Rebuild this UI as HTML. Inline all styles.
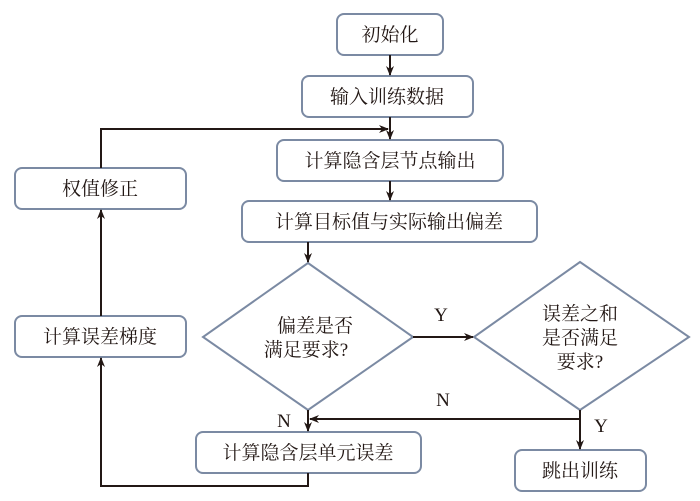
<!DOCTYPE html>
<html><head><meta charset="utf-8"><style>
body{margin:0;background:#fff;}
svg{display:block;font-family:"Liberation Serif","Noto Serif CJK SC","Noto Sans CJK SC",serif;}
.b{fill:#fff;stroke:#7b8aa3;stroke-width:2;}
.l{stroke:#231815;stroke-width:2;fill:none;}
text{font-size:19px;fill:#231815;text-anchor:middle;}
</style></head><body>
<svg width="700" height="501" viewBox="0 0 700 501" xmlns="http://www.w3.org/2000/svg">
<defs><marker id="a" markerWidth="10" markerHeight="10" refX="9" refY="5" orient="auto" markerUnits="userSpaceOnUse"><path d="M0,1 L10,5 L0,9 L3,5 Z" fill="#231815"/></marker></defs>
<rect class="b" x="337" y="14" width="106" height="41" rx="7"/>
<text x="390" y="41">初始化</text>
<rect class="b" x="302" y="76" width="171" height="41" rx="7"/>
<text x="387" y="103">输入训练数据</text>
<rect class="b" x="277" y="140" width="226" height="41" rx="7"/>
<text x="390" y="167">计算隐含层节点输出</text>
<rect class="b" x="242" y="201" width="295" height="41" rx="7"/>
<text x="389" y="228">计算目标值与实际输出偏差</text>
<rect class="b" x="15" y="168" width="171" height="41" rx="7"/>
<text x="100" y="195">权值修正</text>
<rect class="b" x="15" y="316" width="171" height="41" rx="7"/>
<text x="100" y="343">计算误差梯度</text>
<polygon class="b" points="308,263 413,337 308,410 203,337"/>
<text x="315" y="332">偏差是否</text>
<text x="306" y="356">满足要求?</text>
<polygon class="b" points="580,262 689,337 580,410 474,337"/>
<text x="580" y="320">误差之和</text>
<text x="580" y="344">是否满足</text>
<text x="580" y="368">要求?</text>
<rect class="b" x="196" y="432" width="225" height="41" rx="7"/>
<text x="308" y="459">计算隐含层单元误差</text>
<rect class="b" x="515" y="450" width="131" height="41" rx="7"/>
<text x="580" y="477">跳出训练</text>
<line class="l" x1="390" y1="55" x2="390" y2="75" marker-end="url(#a)"/>
<line class="l" x1="390" y1="117" x2="390" y2="139" marker-end="url(#a)"/>
<polyline class="l" points="101,168 101,129 388,129" marker-end="url(#a)"/>
<line class="l" x1="390" y1="181" x2="390" y2="200" marker-end="url(#a)"/>
<line class="l" x1="308" y1="242" x2="308" y2="262" marker-end="url(#a)"/>
<line class="l" x1="413" y1="337" x2="473" y2="337" marker-end="url(#a)"/>
<text x="441" y="321">Y</text>
<line class="l" x1="308" y1="410" x2="308" y2="431" marker-end="url(#a)"/>
<polyline class="l" points="580,410 580,419 310,419" marker-end="url(#a)"/>
<text x="443" y="406">N</text>
<text x="284" y="427">N</text>
<line class="l" x1="580" y1="419" x2="580" y2="449" marker-end="url(#a)"/>
<text x="601" y="432">Y</text>
<polyline class="l" points="308,473 308,486 101,486 101,358" marker-end="url(#a)"/>
<line class="l" x1="101" y1="316" x2="101" y2="210" marker-end="url(#a)"/>
</svg>
</body></html>
